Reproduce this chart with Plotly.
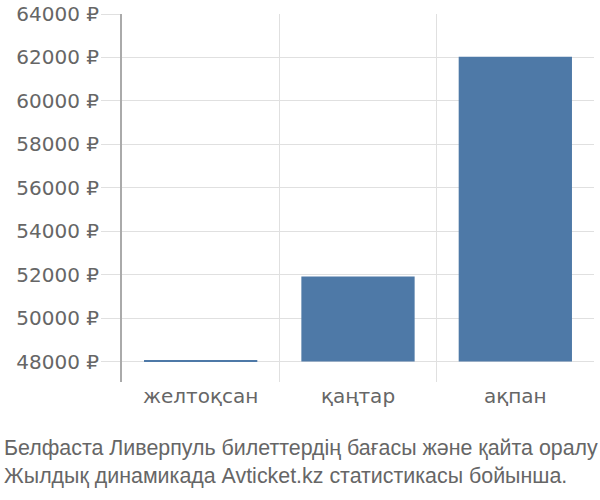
import plotly.graph_objects as go

months = ["желтоқсан", "қаңтар", "ақпан"]
prices = [48040, 51910, 62030]
base_price = 48000
tick_values = [48000, 50000, 52000, 54000, 56000, 58000, 60000, 62000, 64000]
caption = ("Белфаста Ливерпуль билеттердің бағасы және қайта оралу<br>"
           "Жылдық динамикада Avticket.kz статистикасы бойынша.")

grid = "#e0e0e0"
text_grey = "#666666"
tick_font = "DejaVu Sans, Liberation Sans, sans-serif"

fig = go.Figure(go.Bar(
    x=months,
    y=[p - base_price for p in prices],
    base=base_price,
    marker=dict(color="#4e79a7", line=dict(width=0)),
    width=0.72,
    hoverinfo="skip",
))

fig.update_layout(
    width=600, height=500,
    margin=dict(l=122, r=6, t=14, b=118),
    plot_bgcolor="white", paper_bgcolor="white",
    font=dict(family=tick_font, size=20, color=text_grey),
    showlegend=False,
)

fig.update_xaxes(
    showgrid=True, gridcolor=grid, gridwidth=1,
    tickson="boundaries", ticks="", showline=False, zeroline=False,
    tickfont=dict(family=tick_font, size=20, color=text_grey),
    automargin=False,
)

fig.update_yaxes(
    range=[47056, 64000],
    tickvals=tick_values,
    ticktext=[f"{v} ₽" for v in tick_values],
    showgrid=True, gridcolor=grid, gridwidth=1,
    ticks="outside", ticklen=19, tickcolor=grid, tickwidth=1,
    ticklabelstandoff=-2,
    showline=True, linecolor="#aaaaaa", linewidth=2,
    zeroline=False,
    tickfont=dict(family=tick_font, size=20, color=text_grey),
    automargin=False,
)

fig.add_annotation(
    text=caption, xref="paper", yref="paper",
    x=-120 / 472, y=-0.14, xanchor="left", yanchor="top",
    align="left", showarrow=False,
    font=dict(family="Liberation Sans Narrow, Liberation Sans, Arial, sans-serif", size=21.4, color=text_grey),
)

# drop the default body margin so the figure sits at the page corner
fig.write_html("out.html", config={"displayModeBar": False},
               post_script="document.body.style.margin='0';")
